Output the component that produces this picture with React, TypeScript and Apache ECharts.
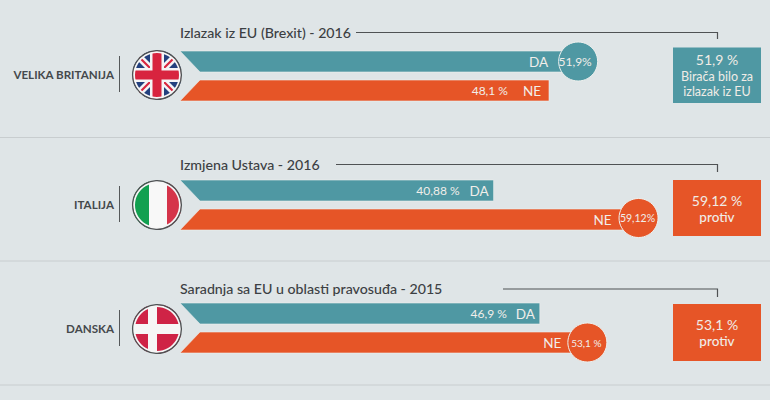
import React, { useEffect, useRef } from "react";
import * as echarts from "echarts";

const countries = ["VELIKA BRITANIJA", "ITALIJA", "DANSKA"];
const titles = ["Izlazak iz EU (Brexit) - 2016", "Izmjena Ustava - 2016", "Saradnja sa EU u oblasti pravosuđa - 2015"];
const answers = ["DA", "NE"];
const daValues = [51.9, 40.88, 46.9];
const neValues = [48.1, 59.12, 53.1];
const daLabels = ["51,9%", "40,88 %", "46,9 %"];
const neLabels = ["48,1 %", "59,12%", "53,1 %"];
const boxHeadlines = ["51,9 %", "59,12 %", "53,1 %"];
const boxNotes = ["Birača bilo za\nizlazak iz EU", "protiv", "protiv"];

const BG = "#dfe5e7";
const TEAL = "#4f98a3";
const ORANGE = "#e65527";
const INK = "#3c4043";
const FONT = "Lato, 'Open Sans', sans-serif";

// Layout of the three panels
const panels = [
  { gridTop: 47, titleY: 32, lineStart: 356, lineY: 32.5, lineEnd: 39, boxY: 47.5, boxH: 55.5, flagY: 75, nudge: 0, cy: 0, winGap: 30, loseShift: -3, loseGap: 38, badgeSize: 12, badgeShift: -3 },
  { gridTop: 176, titleY: 164, lineStart: 336, lineY: 164.5, lineEnd: 172, boxY: 180, boxH: 56, flagY: 205, nudge: 5, cy: -1.5, winGap: 27, loseShift: 0, loseGap: 34, badgeSize: 10.5, badgeShift: -1 },
  { gridTop: 299, titleY: 288, lineStart: 503, lineY: 289, lineEnd: 297, boxY: 304, boxH: 57, flagY: 329, nudge: 0, cy: 0, winGap: 26, loseShift: 0, loseGap: 33, badgeSize: 10, badgeShift: -1 },
];
const separators = [137.5, 261, 385];
const FLAG_X = 157;

function flagElements(i: number, cy: number): any[] {
  const cx = FLAG_X;
  const h = 24;
  const rect = (x: number, y: number, width: number, height: number, fill: string) => ({
    type: "rect",
    shape: { x, y, width, height },
    style: { fill },
  });
  let parts: any[] = [];
  if (i === 0) {
    const diag = (sx: number, stroke: string, lineWidth: number) => ({
      type: "line",
      shape: { x1: cx - h * sx, y1: cy - h, x2: cx + h * sx, y2: cy + h },
      style: { stroke, lineWidth },
    });
    parts = [
      rect(cx - h, cy - h, h * 2, h * 2, "#23407e"),
      diag(1, "#f4f4f6", 7),
      diag(-1, "#f4f4f6", 7),
      diag(1, "#d8243f", 2.2),
      diag(-1, "#d8243f", 2.2),
      rect(cx - 7, cy - h, 14, h * 2, "#f4f4f6"),
      rect(cx - h, cy - 7, h * 2, 14, "#f4f4f6"),
      rect(cx - 4.5, cy - h, 9, h * 2, "#d8243f"),
      rect(cx - h, cy - 4.5, h * 2, 9, "#d8243f"),
    ];
  } else if (i === 1) {
    parts = [
      rect(cx - h, cy - h, 16, h * 2, "#12a050"),
      rect(cx - 8, cy - h, 18, h * 2, "#f8f8f8"),
      rect(cx + 10, cy - h, 14, h * 2, "#d5344a"),
    ];
  } else {
    parts = [
      rect(cx - h, cy - h, h * 2, h * 2, "#cf2346"),
      rect(cx - 9, cy - h, 9, h * 2, "#f6f6f6"),
      rect(cx - h, cy - 5, h * 2, 10, "#f6f6f6"),
    ];
  }
  return [
    ...parts,
    { type: "ring", shape: { cx, cy, r: 24, r0: 22 }, style: { fill: "#f6f6f6" } },
    { type: "ring", shape: { cx, cy, r: 35, r0: 24.8 }, style: { fill: BG } },
    { type: "circle", shape: { cx, cy, r: 24.4 }, style: { fill: "none", stroke: "#4f5254", lineWidth: 1.3 } },
  ];
}

function panelGraphics(i: number): any[] {
  const p = panels[i];
  return [
    ...flagElements(i, p.flagY),
    {
      type: "line",
      shape: { x1: 119.5, y1: p.flagY - 19, x2: 119.5, y2: p.flagY + 17 },
      style: { stroke: "#55585a", lineWidth: 1 },
    },
    {
      type: "text",
      style: { text: countries[i], x: 114, y: p.flagY - 1, align: "right", verticalAlign: "middle", fill: "#45494c", fontFamily: FONT, fontSize: 11.6, fontWeight: 700 },
    },
    {
      type: "text",
      style: { text: titles[i], x: 180, y: p.titleY, verticalAlign: "middle", fill: INK, fontFamily: FONT, fontSize: 14.2, fontWeight: 500 },
    },
    {
      type: "polyline",
      shape: { points: [[p.lineStart, p.lineY], [717.5, p.lineY], [717.5, p.lineEnd]] },
      style: { fill: "none", stroke: "#4f5254", lineWidth: 1.2 },
    },
    {
      type: "rect",
      shape: { x: 673, y: p.boxY, width: 88, height: p.boxH },
      style: { fill: neValues[i] > daValues[i] ? ORANGE : TEAL },
    },
    {
      type: "text",
      style: {
        text: boxHeadlines[i],
        x: 717, y: i === 0 ? p.boxY + 12 : p.boxY + 20, align: "center", verticalAlign: "middle",
        fill: "#f0ece6", fontFamily: FONT, fontSize: 14,
      },
    },
    {
      type: "text",
      style: {
        text: boxNotes[i],
        x: 717, y: i === 0 ? p.boxY + 36 : p.boxY + 37, align: "center", verticalAlign: "middle",
        fill: "#f0ece6", fontFamily: FONT, fontSize: i === 0 ? 12.5 : 13.5, lineHeight: 15,
        fontWeight: i === 0 ? 400 : 500,
      },
    },
  ];
}

const BAND = 21;
const SLANT = 20;

function barRenderer(panel: number) {
  const p = panels[panel];
  return (params: any, api: any) => {
    const row = api.value(0) as number;
    const value = api.value(1) as number;
    const start = api.coord([0, row]);
    const end = api.coord([value, row]);
    const top = start[1] - BAND / 2;
    const bottom = start[1] + BAND / 2;
    const color = row === 0 ? TEAL : ORANGE;
    const pts =
      row === 0
        ? [[start[0], top], [end[0], top], [end[0], bottom], [start[0] + SLANT, bottom]]
        : [[start[0] + SLANT, top], [end[0], top], [end[0], bottom], [start[0], bottom]];
    const rivals = row === 0 ? neValues[panel] : daValues[panel];
    const wins = value > rivals;
    const label = row === 0 ? daLabels[panel] : neLabels[panel];
    const children: any[] = [
      { type: "polygon", shape: { points: pts }, style: { fill: color, stroke: "#eef0ee", lineWidth: 0.6 } },
    ];
    const text = (t: string, x: number, y: number, align: string, size: number) => ({
      type: "text",
      style: { text: t, x, y, align, verticalAlign: "middle", fill: "#f1eeea", fontFamily: FONT, fontSize: size },
    });
    if (wins) {
      const cx = end[0] + p.nudge;
      const cy = end[1] + p.cy;
      children.push({ type: "circle", shape: { cx, cy, r: 19.5 }, style: { fill: color, stroke: "#eef0ee", lineWidth: 1 } });
      children.push(text(label, cx + p.badgeShift, cy, "center", p.badgeSize));
      children.push(text(answers[row], cx - p.winGap, end[1], "right", 13.5));
    } else {
      children.push(text(answers[row], end[0] - 5 + p.loseShift, end[1], "right", 13.5));
      children.push(text(label, end[0] - p.loseGap + p.loseShift, end[1], "right", 12));
    }
    return { type: "group", children };
  };
}

export default function App() {
  const ref = useRef<HTMLDivElement>(null);
  useEffect(() => {
    const chart = echarts.init(ref.current!, undefined, { renderer: "svg" });
    const idx = [0, 1, 2];
    chart.setOption({
      animation: false,
      backgroundColor: BG,
      grid: panels.map((p) => ({ left: 180, width: 537, top: p.gridTop, height: 58 })),
      xAxis: idx.map((i) => ({ type: "value", gridIndex: i, min: 0, max: 70, show: false })),
      yAxis: idx.map((i) => ({ type: "category", gridIndex: i, data: answers, inverse: true, show: false })),
      series: idx.map((i) => ({
        type: "custom",
        xAxisIndex: i,
        yAxisIndex: i,
        clip: false,
        renderItem: barRenderer(i),
        encode: { x: 1, y: 0 },
        data: [
          [0, daValues[i]],
          [1, neValues[i]],
        ],
      })),
      graphic: [
        {
          type: "group",
          z: 0,
          children: [
            ...separators.map((y) => ({
              type: "line",
              shape: { x1: 0, y1: y, x2: 770, y2: y },
              style: { stroke: "#c8cdcf", lineWidth: 1 },
            })),
            ...idx.flatMap((i) => panelGraphics(i)),
          ],
        },
      ],
    });
    return () => chart.dispose();
  }, []);
  return <div ref={ref} style={{ position: "absolute", left: 0, top: 0, width: 770, height: 400 }} />;
}
